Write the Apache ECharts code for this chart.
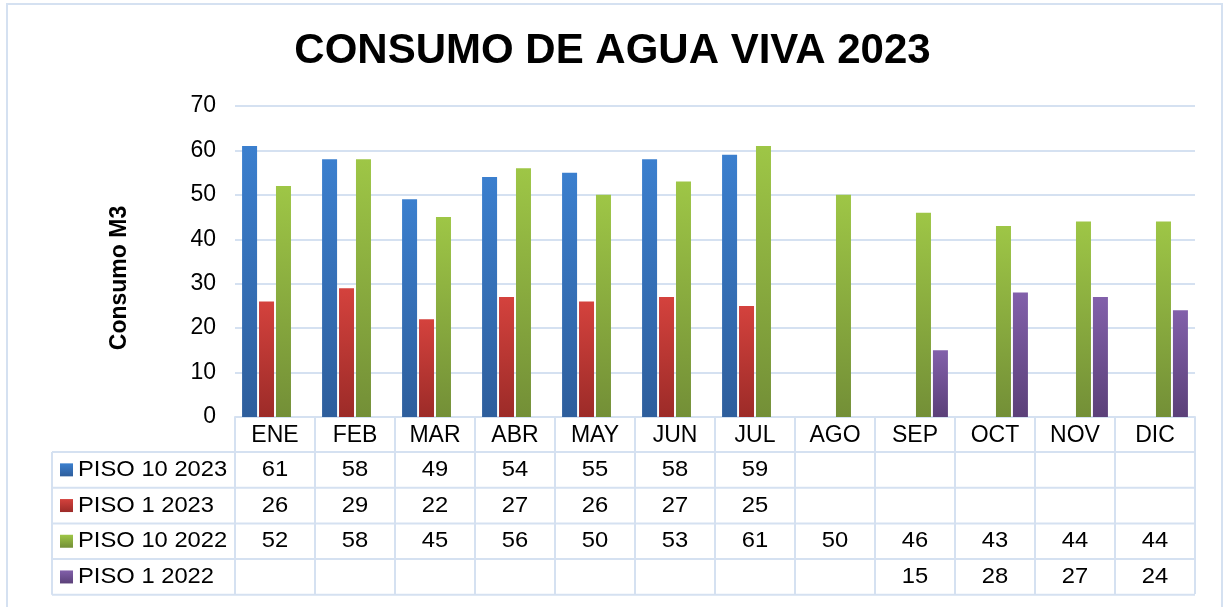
<!DOCTYPE html>
<html>
<head>
<meta charset="utf-8">
<script src="https://cdn.jsdelivr.net/npm/echarts@6/dist/echarts.min.js"></script>
<style>
  html, body { margin: 0; padding: 0; background: #fff; }
  #main { width: 1225px; height: 607px; }
</style>
</head>
<body>
<div id="main"></div>
<script>
var meses = ['ENE', 'FEB', 'MAR', 'ABR', 'MAY', 'JUN', 'JUL', 'AGO', 'SEP', 'OCT', 'NOV', 'DIC'];
var piso10_2023 = [61, 58, 49, 54, 55, 58, 59, null, null, null, null, null];
var piso1_2023 = [26, 29, 22, 27, 26, 27, 25, null, null, null, null, null];
var piso10_2022 = [52, 58, 45, 56, 50, 53, 61, 50, 46, 43, 44, 44];
var piso1_2022 = [null, null, null, null, null, null, null, null, 15, 28, 27, 24];
var seriesNames = ['PISO 10 2023', 'PISO 1 2023', 'PISO 10 2022', 'PISO 1 2022'];
var yTicks = [0, 10, 20, 30, 40, 50, 60, 70];

var FONT = '"Liberation Sans", Arial, sans-serif';
var LINE = '#D5E1F1';
// color arriba / abajo de cada barra
var colores = [
  ['#3B7FCE', '#2E5E9C'],
  ['#D4423D', '#9C2B28'],
  ['#9EC646', '#738F37'],
  ['#8260AA', '#5B4079']
];
var datos = [piso10_2023, piso1_2023, piso10_2022, piso1_2022];

function grad(c) {
  return new echarts.graphic.LinearGradient(0, 0, 0, 1, [
    { offset: 0, color: c[0] },
    { offset: 1, color: c[1] }
  ]);
}

var myChart = echarts.init(document.getElementById('main'));

var option = {
  animation: false,
  title: {
    text: 'CONSUMO DE AGUA VIVA 2023',
    left: 'center',
    top: 25,
    textStyle: { fontFamily: FONT, fontSize: 42, fontWeight: 'bold', color: '#000' }
  },
  grid: { left: 235, right: 30, top: 106, bottom: 190, containLabel: false },
  xAxis: {
    type: 'category',
    data: meses,
    axisLine: { lineStyle: { color: LINE, width: 2 } },
    axisTick: { show: true, interval: 0, length: 177, lineStyle: { color: LINE, width: 2 } },
    axisLabel: { interval: 0, margin: 7, fontFamily: FONT, fontSize: 23, color: '#000' }
  },
  yAxis: {
    type: 'value',
    min: yTicks[0],
    max: yTicks[yTicks.length - 1],
    interval: 10,
    axisLine: { show: false },
    axisTick: { show: false },
    axisLabel: { margin: 19, fontFamily: FONT, fontSize: 23, color: '#000' },
    splitLine: { lineStyle: { color: LINE, width: 2 } }
  },
  series: datos.map(function (d, i) {
    return {
      name: seriesNames[i],
      type: 'bar',
      data: d,
      barWidth: 15,
      barGap: '13%',
      barCategoryGap: '17%',
      itemStyle: {
        color: grad(colores[i]),
        shadowBlur: 4,
        shadowOffsetX: 2,
        shadowOffsetY: 1,
        shadowColor: 'rgba(0,0,0,0.3)'
      }
    };
  })
};

myChart.setOption(option);

// tabla de datos debajo del eje
function dibujarTabla() {
  var y0 = myChart.convertToPixel({ yAxisIndex: 0 }, 0);
  var xR = myChart.convertToPixel({ xAxisIndex: 0 }, meses.length - 1) + 40;
  var tabLeft = 52;
  var headH = 35;
  var rowH = 35.7;
  var g = [];

  // borde exterior del grafico
  g.push({ type: 'rect', shape: { x: 7, y: 4, width: 1215, height: 620 }, style: { fill: null, stroke: LINE, lineWidth: 2 }, silent: true });

  // titulo del eje y
  g.push({ type: 'text', x: 120, y: 278, rotation: Math.PI / 2,
    style: { text: 'Consumo M3', fontFamily: FONT, fontSize: 23, fontWeight: 'bold', fill: '#000', align: 'center', verticalAlign: 'middle' } });

  for (var r = 0; r <= seriesNames.length; r++) {
    var yy = y0 + headH + r * rowH;
    g.push({ type: 'line', shape: { x1: tabLeft, y1: yy, x2: xR, y2: yy }, style: { stroke: LINE, lineWidth: 2 } });
  }
  g.push({ type: 'line', shape: { x1: tabLeft, y1: y0 + headH, x2: tabLeft, y2: y0 + headH + seriesNames.length * rowH }, style: { stroke: LINE, lineWidth: 2 } });

  seriesNames.forEach(function (name, i) {
    var cy = y0 + headH + i * rowH + rowH / 2;
    g.push({ type: 'rect', shape: { x: 60, y: cy - 6.5, width: 13, height: 13 }, style: { fill: grad(colores[i]) } });
    g.push({ type: 'text', x: 78, y: cy, scaleX: 1.08,
      style: { text: name, fontFamily: FONT, fontSize: 22, fill: '#000', verticalAlign: 'middle', align: 'left' } });
    datos[i].forEach(function (v, j) {
      if (v === null) return;
      var cx = myChart.convertToPixel({ xAxisIndex: 0 }, j);
      g.push({ type: 'text', x: cx, y: cy, scaleX: 1.08,
        style: { text: String(v), fontFamily: FONT, fontSize: 22, fill: '#000', verticalAlign: 'middle', align: 'center' } });
    });
  });

  myChart.setOption({ graphic: g });
}

dibujarTabla();
</script>
</body>
</html>
